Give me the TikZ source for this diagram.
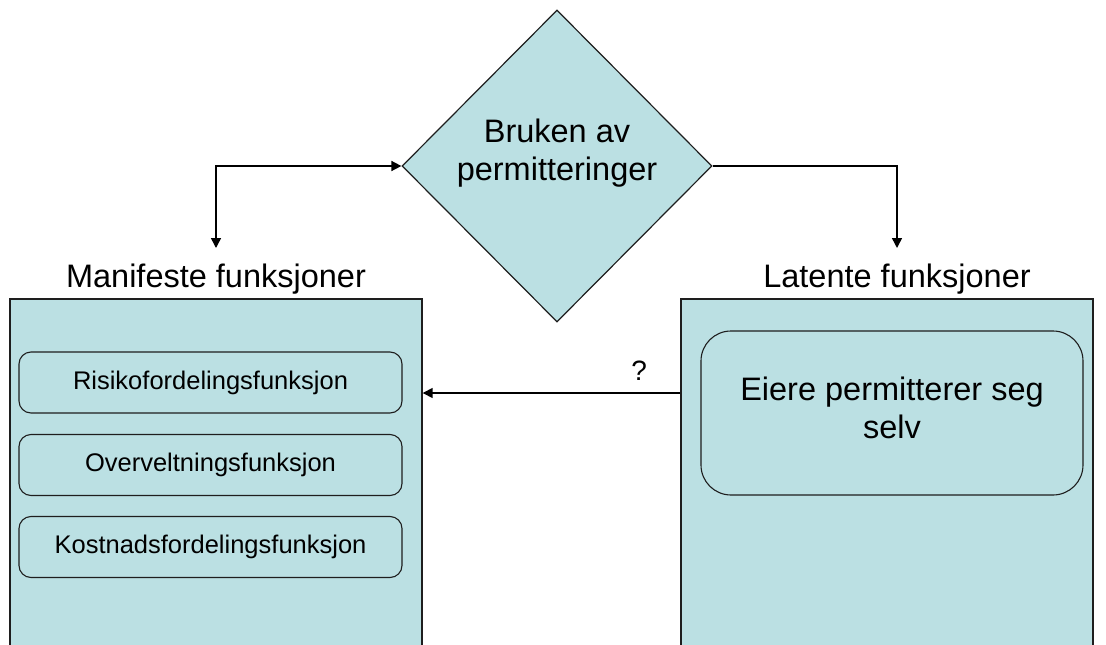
\documentclass[tikz,border=0pt]{standalone}
\usepackage{fontspec}
\setmainfont{Liberation Sans}
\usetikzlibrary{shapes.geometric,arrows.meta}
\definecolor{panelfill}{RGB}{187,224,227}
\definecolor{edge}{RGB}{30,30,30}
\tikzset{
  panel/.style={draw=edge, line width=1.4pt, fill=panelfill, inner sep=0pt},
  itembox/.style={draw=edge, line width=1.1pt, fill=panelfill, rounded corners=12pt,
    minimum width=383pt, minimum height=61pt, inner sep=0pt,
    font=\fontsize{25.5}{30}\selectfont},
  bigbox/.style={draw=edge, line width=1.1pt, fill=panelfill, rounded corners=30pt,
    minimum width=382pt, minimum height=164pt, inner sep=0pt},
  decision/.style={draw=edge, line width=1.2pt, fill=panelfill, shape=diamond,
    minimum width=310pt, minimum height=312pt, inner sep=0pt},
  bigtext/.style={align=center, inner sep=0pt, font=\fontsize{32.5}{38.5}\selectfont},
  heading/.style={anchor=base, inner sep=0pt, font=\fontsize{32.5}{38.5}\selectfont},
  link/.style={draw=black, line width=1.5pt, -{Triangle[length=10pt,width=10pt]}},
  bothlink/.style={draw=black, line width=1.5pt, {Triangle[length=10pt,width=10pt]}-{Triangle[length=10pt,width=10pt]}}
}
\begin{document}
\begin{tikzpicture}[x=1pt,y=-1pt]
  \clip (0,0) rectangle (1106,645);
  \fill[white] (0,0) rectangle (1106,645);

  % central decision
  \node[decision] (use) at (557,166) {};
  \node[bigtext] (usetxt) at ([yshift=13pt]use.center) {Bruken av\\permitteringer};

  % column headings
  \node[heading] (mh) at (216,287) {Manifeste funksjoner};
  \node[heading] (lh) at (897,287) {Latente funksjoner};

  % panels (run past the lower edge)
  \node[panel, minimum width=412pt, minimum height=401pt] (lp) at (216,499.5) {};
  \node[panel, minimum width=412pt, minimum height=401pt] (rp) at (887,499.5) {};

  % manifest functions
  \node[itembox] (b1) at (210.5,382.5) {Risikofordelingsfunksjon};
  \node[itembox] (b2) at (210.5,465) {Overveltningsfunksjon};
  \node[itembox] (b3) at (210.5,547) {Kostnadsfordelingsfunksjon};

  % latent function
  \node[bigbox] (b4) at (892,413) {};
  \node[bigtext] (b4txt) at ([yshift=5pt]b4.center) {Eiere permitterer seg\\selv};

  % connectors
  \coordinate (ltip) at (216,248);
  \coordinate (rtip) at (897,248);
  \coordinate (mid) at (0,393);

  \draw[bothlink] (use.west) -| (ltip);
  \draw[link] (use.east) -| (rtip);
  \draw[link] (rp.west |- mid) -- node[pos=0.16, above=8pt, font=\fontsize{28}{32}\selectfont] (q) {?} (lp.east |- mid);
\end{tikzpicture}
\end{document}
